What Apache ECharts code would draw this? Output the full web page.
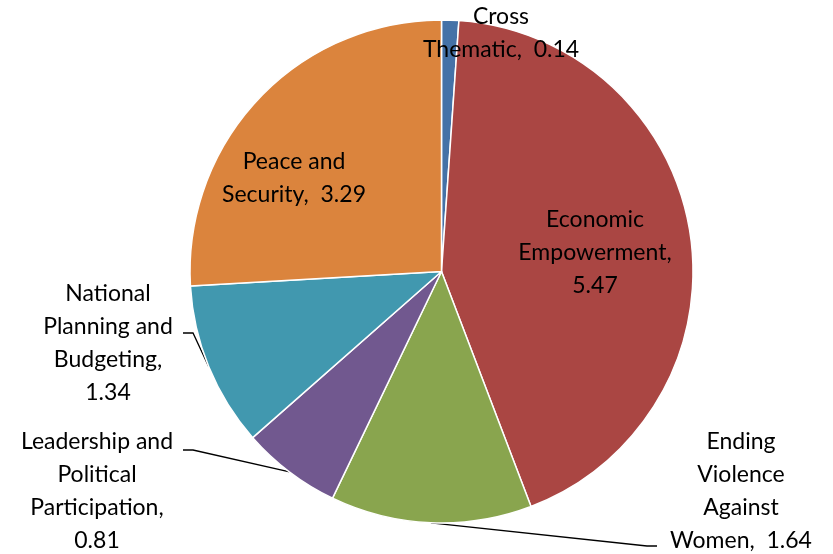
<!DOCTYPE html>
<html><head><meta charset="utf-8">
<script src="https://cdn.jsdelivr.net/npm/echarts@6/dist/echarts.min.js"></script>
<style>html,body{margin:0;padding:0;background:#fff}#c{width:833px;height:554px}</style>
</head><body><div id="c"></div>
<script>
const categories = ['Cross Thematic','Economic Empowerment','Ending Violence Against Women','Leadership and Political Participation','National Planning and Budgeting','Peace and Security'];
const values = [0.14, 5.47, 1.64, 0.81, 1.34, 3.29];
const labelTemplates = ['Cross\nThematic,  {v}','Economic\nEmpowerment,\n{v}','Ending\nViolence\nAgainst\nWomen,  {v}','Leadership and\nPolitical\nParticipation,\n{v}','National\nPlanning and\nBudgeting,\n{v}','Peace and\nSecurity,  {v}'];
const colors = ['#4572A7','#AA4643','#89A54E','#71588F','#4198AF','#DB843D'];

const CX = 441.5, CY = 271.5, R = 251.5;
// label centres and leader elbows/ends (layout only)
const labelPos = [
  {x:501, y:33, line:false},
  {x:595, y:253, line:false},
  {x:741, y:491.5, line:true, elbow:[647,546], end:[657,546]},
  {x:97, y:491, line:true, elbow:[193,450], end:[183,450]},
  {x:108, y:343, line:true, elbow:[193,333], end:[183,333]},
  {x:294, y:178.5, line:false}
];
const total = values.reduce((a,b)=>a+b,0);
function edgePoint(i){
  let cum = 0; for (let k=0;k<i;k++) cum += values[k];
  const mid = (cum + values[i]/2)/total*2*Math.PI;
  return [CX + R*Math.sin(mid), CY - R*Math.cos(mid)];
}

const chart = echarts.init(document.getElementById('c'));
chart.setOption({
  animation:false,
  backgroundColor:'#fff',
  series:[{
    type:'pie',
    center:[CX, CY],
    radius:[0, R],
    startAngle:90,
    clockwise:true,
    itemStyle:{borderColor:'#fff', borderWidth:1.5},
    label:{
      fontFamily:'Lato', fontSize:23, lineHeight:33, color:'#000', align:'center',
      overflow:'none',
      formatter:p=>labelTemplates[p.dataIndex].replace('{v}', values[p.dataIndex].toFixed(2))
    },
    labelLine:{lineStyle:{color:'#000', width:1.3}},
    labelLayout:function(p){
      const lp = labelPos[p.dataIndex];
      const out = {x:lp.x, y:lp.y, align:'center', verticalAlign:'middle'};
      if (lp.line) out.labelLinePoints = [edgePoint(p.dataIndex), lp.elbow, lp.end];
      return out;
    },
    data: categories.map((c,i)=>({
      name:c, value:values[i], itemStyle:{color:colors[i]},
      label:{position: (labelPos[i].line || i===0) ? 'outside' : 'inside', overflow:'none', width:400},
      labelLine:{show: labelPos[i].line}
    }))
  }]
});
</script>
</body></html>
